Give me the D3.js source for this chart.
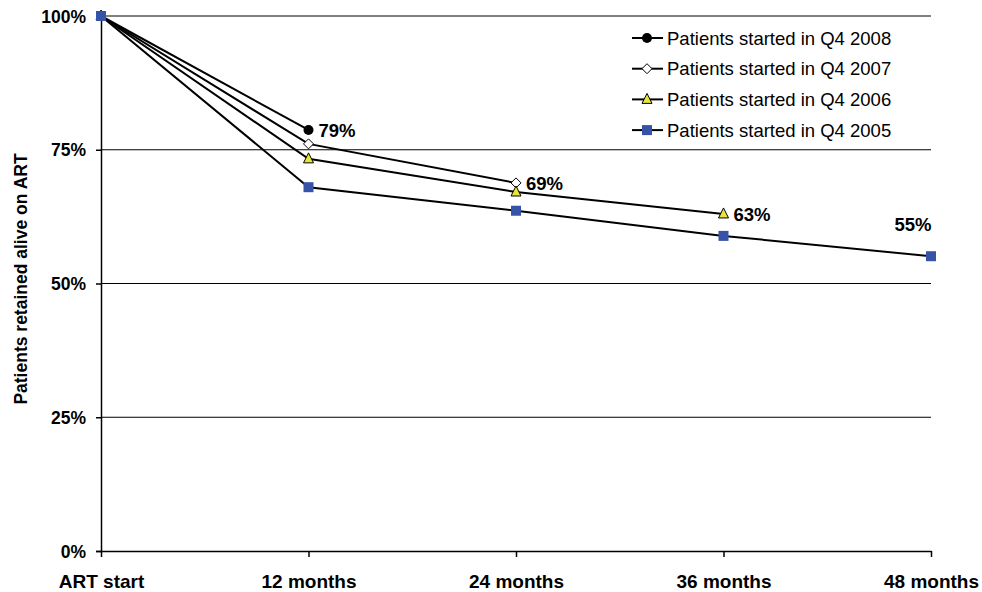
<!DOCTYPE html>
<html><head><meta charset="utf-8">
<script src="https://cdn.jsdelivr.net/npm/d3@7"></script>
<style>body{margin:0;background:#fff;} text{font-family:"Liberation Sans",Arial,sans-serif;}</style>
</head><body>
<svg id="c" width="982" height="592"></svg>
<script>
const categories = ["ART start","12 months","24 months","36 months","48 months"];
const yTicks = [0,25,50,75,100];
const s2008 = [100, 78.7];
const s2007 = [100, 76.1, 68.8];
const s2006 = [100, 73.3, 67.1, 63.0];
const s2005 = [100, 68.0, 63.6, 58.9, 55.1];
const seriesNames = ["Patients started in Q4 2008","Patients started in Q4 2007","Patients started in Q4 2006","Patients started in Q4 2005"];
const endLabels = ["79%","69%","63%","55%"];

const svg = d3.select("#c");
const x = d3.scalePoint().domain(categories).range([101,931]);
const y = d3.scaleLinear().domain([0,100]).range([551,16]);
const FF = "Liberation Sans, Arial, sans-serif";

// gridlines
svg.append("g").selectAll("line").data(yTicks.filter(d=>d>0)).join("line")
  .attr("x1",101).attr("x2",931).attr("y1",d=>y(d)).attr("y2",d=>y(d))
  .attr("stroke","#000").attr("stroke-width",1);

// y axis
const ya = svg.append("g").attr("transform","translate(101,0)")
  .call(d3.axisLeft(y).tickValues(yTicks).tickFormat(d=>d+"%").tickSize(5).tickPadding(10));
ya.select(".domain").attr("stroke","#000").attr("stroke-width",1.5);
ya.selectAll(".tick line").attr("stroke-width",1.5);
ya.selectAll("text").attr("font-size",17.5).attr("font-weight","bold").attr("fill","#000").attr("dy","0.35em").attr("font-family",FF);

// x axis
const xa = svg.append("g").attr("transform","translate(0,551)")
  .call(d3.axisBottom(x).tickSize(6).tickSizeOuter(0).tickPadding(18));
xa.select(".domain").attr("stroke","#000").attr("stroke-width",1.5);
xa.selectAll(".tick line").attr("stroke-width",1.5);
xa.selectAll("text").attr("font-size",19).attr("font-weight","bold").attr("fill","#000").attr("font-family",FF);

// y label
svg.append("text").attr("transform","translate(27,279) rotate(-90)").attr("text-anchor","middle")
  .attr("font-size",17.5).attr("font-weight","bold").text("Patients retained alive on ART");

const series = [s2008,s2007,s2006,s2005];
const line = d3.line().x((d,i)=>x(categories[i])).y(d=>y(d));

function marker(g, k, cx, cy){
  if(k===0) g.append("circle").attr("cx",cx).attr("cy",cy).attr("r",5).attr("fill","#000");
  else if(k===1) g.append("path").attr("d",`M${cx},${cy-5}L${cx+5},${cy}L${cx},${cy+5}L${cx-5},${cy}Z`).attr("fill","#fff").attr("stroke","#000").attr("stroke-width",1);
  else if(k===2) g.append("path").attr("d",`M${cx},${cy-6}L${cx+5},${cy+4}L${cx-5},${cy+4}Z`).attr("fill","#e6e639").attr("stroke","#000").attr("stroke-width",1);
  else g.append("rect").attr("x",cx-5).attr("y",cy-5).attr("width",10).attr("height",10).attr("fill","#3653a7");
}

series.forEach((s,k)=>{
  svg.append("path").datum(s).attr("d",line).attr("fill","none").attr("stroke","#000").attr("stroke-width",2);
});
series.forEach((s,k)=>{
  const g = svg.append("g");
  s.forEach((v,i)=>marker(g,k,x(categories[i]),y(v)));
});

// end labels
series.forEach((s,k)=>{
  const i = s.length-1;
  const t = svg.append("text").attr("font-size",18.5).attr("font-weight","bold").text(endLabels[k]);
  if(k===3) t.attr("x",x(categories[i])-18).attr("y",y(s[i])-25).attr("text-anchor","middle");
  else t.attr("x",x(categories[i])+10).attr("y",y(s[i])+7);
});

// legend
const lg = svg.append("g");
seriesNames.forEach((n,k)=>{
  const yy = 38 + k*30.7;
  lg.append("line").attr("x1",632).attr("x2",663).attr("y1",yy).attr("y2",yy).attr("stroke","#000").attr("stroke-width",2);
  marker(lg,k,647,yy);
  lg.append("text").attr("x",667).attr("y",yy+6.5).attr("font-size",18.5).text(n);
});
</script>
</body></html>
